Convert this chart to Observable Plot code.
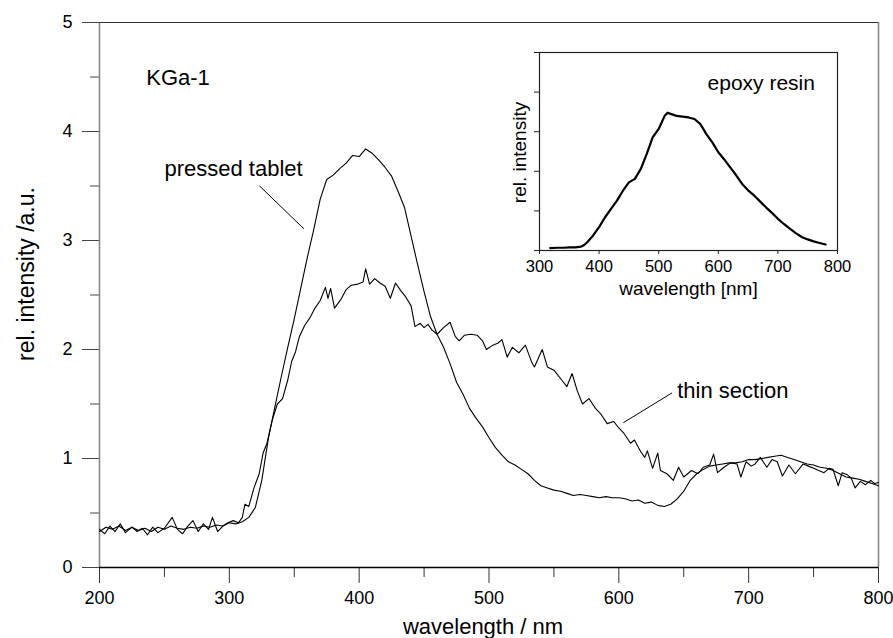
<!DOCTYPE html>
<html>
<head>
<meta charset="utf-8">
<script src="https://cdn.jsdelivr.net/npm/d3@7"></script>
<script src="https://cdn.jsdelivr.net/npm/@observablehq/plot@0.6"></script>
<style>
  html, body { margin: 0; padding: 0; background: white; }
  #wrap { position: relative; width: 893px; height: 638px; }
  #inset { position: absolute; left: 495px; top: 45px; }
</style>
</head>
<body>
<div id="wrap"><div id="main"></div><div id="inset"></div></div>
<script>
// ---- Main chart data ----
const ptWave = [200,205,210,215,220,225,230,235,240,245,250,255,260,265,270,275,280,285,290,295,
  300,305,310,315,320,325,330,335,340,345,350,355,360,365,370,375,380,385,390,395,
  400,405,410,415,420,425,430,435,440,445,450,455,460,465,470,475,480,485,490,495,
  500,505,510,515,520,525,530,535,540,545,550,555,560,565,570,575,580,585,590,595,
  600,605,610,615,620,625,630,635,640,645,650,655,660,665,670,675,680,685,690,695,
  700,705,710,715,720,725,730,735,740,745,750,755,760,765,770,775,780,785,790,795,800];
const ptInt = [0.33,0.37,0.35,0.38,0.34,0.37,0.34,0.36,0.33,0.37,0.35,0.38,0.36,0.35,0.37,0.36,0.38,0.37,0.39,0.38,
  0.41,0.40,0.42,0.46,0.55,0.80,1.18,1.47,1.75,2.02,2.28,2.56,2.84,3.10,3.38,3.56,3.60,3.66,3.71,3.78,
  3.77,3.84,3.80,3.74,3.67,3.59,3.45,3.30,3.04,2.78,2.53,2.30,2.14,2.02,1.87,1.70,1.59,1.46,1.37,1.29,
  1.19,1.10,1.03,0.97,0.94,0.90,0.86,0.80,0.75,0.73,0.71,0.70,0.68,0.66,0.67,0.66,0.65,0.64,0.65,0.64,
  0.64,0.63,0.61,0.62,0.59,0.60,0.57,0.56,0.58,0.63,0.70,0.80,0.86,0.90,0.93,0.94,0.95,0.96,0.96,0.97,
  0.99,0.99,1.00,1.01,1.02,1.03,1.01,0.99,0.97,0.95,0.94,0.92,0.91,0.89,0.86,0.83,0.82,0.81,0.79,0.77,0.75];

const tsWave = [200,204,208,212,216,220,225,229,233,237,241,245,250,256,260,264,268,272,276,280,
  284,287,291,295,299,303,307,310,312,315,319,323,326,329,333,337,341,345,348,351,
  354,358,362,366,370,374,376,378,381,386,390,394,399,403,405,408,412,416,420,424,
  428,432,436,440,443,447,450,453,456,460,465,470,474,477,481,486,491,495,498,503,
  507,510,514,518,523,528,533,535,541,545,550,556,560,564,568,572,577,582,586,591,
  596,600,604,609,612,617,620,622,626,630,632,637,642,646,650,656,661,665,670,673,
  676,681,686,691,694,698,702,705,709,714,718,722,726,731,736,742,746,750,754,758,
  762,765,769,772,776,779,782,786,790,794,797,800];
const tsInt = [0.35,0.31,0.38,0.33,0.40,0.32,0.37,0.33,0.36,0.30,0.37,0.32,0.36,0.46,0.35,0.31,0.38,0.43,0.33,0.40,
  0.35,0.46,0.33,0.38,0.41,0.43,0.41,0.46,0.58,0.56,0.73,0.86,1.05,1.14,1.35,1.50,1.55,1.72,1.89,1.98,
  2.12,2.22,2.29,2.38,2.45,2.57,2.47,2.56,2.38,2.46,2.55,2.59,2.60,2.62,2.74,2.60,2.65,2.61,2.58,2.47,
  2.61,2.54,2.48,2.40,2.21,2.24,2.20,2.23,2.18,2.14,2.20,2.25,2.12,2.08,2.13,2.14,2.13,2.08,2.00,2.04,
  2.06,2.09,1.93,2.02,1.97,2.04,1.88,1.84,2.00,1.84,1.81,1.72,1.66,1.78,1.62,1.50,1.55,1.46,1.41,1.32,
  1.34,1.28,1.23,1.14,1.17,1.06,1.01,1.07,0.91,1.05,0.89,0.86,0.80,0.92,0.83,0.89,0.86,0.92,0.94,1.04,
  0.87,0.92,0.96,0.95,0.83,0.97,0.93,0.95,1.01,0.92,0.99,0.97,0.84,0.94,0.86,0.95,0.93,0.91,0.89,0.87,
  0.91,0.90,0.75,0.87,0.85,0.82,0.73,0.79,0.76,0.80,0.77,0.78];

// ---- Inset data: epoxy resin ----
const epWave = [318,330,340,350,360,370,375,380,390,400,410,420,430,440,450,460,470,480,490,500,
  510,515,520,530,540,550,560,570,580,590,600,610,620,630,640,650,660,670,680,690,
  700,710,720,730,740,750,760,770,780];
const epInt = [0.06,0.07,0.07,0.08,0.08,0.10,0.14,0.21,0.38,0.59,0.84,1.05,1.26,1.51,1.72,1.81,2.06,2.44,2.86,3.07,
  3.40,3.48,3.45,3.40,3.38,3.36,3.32,3.19,2.94,2.73,2.48,2.30,2.10,1.90,1.68,1.52,1.39,1.24,1.09,0.95,
  0.80,0.67,0.55,0.44,0.34,0.28,0.23,0.19,0.15];

// ---- Ticks ----
const xMajor = [200,300,400,500,600,700,800];
const xMinor = [250,350,450,550,650,750];
const yMajor = [0,1,2,3,4,5];
const yMinor = [0.5,1.5,2.5,3.5,4.5];
const insetXTicks = [300,400,500,600,700,800];
const insetYTicks = [0,1,2,3,4,5];

// ---- Annotations ----
const labels = [
  {text: "KGa-1", x: 236, y: 4.49},
  {text: "pressed tablet", x: 250, y: 3.66},
  {text: "thin section", x: 645, y: 1.62}
];
const leaderPressed = [{x: 323.3, y: 3.50}, {x: 357.2, y: 3.11}];
const leaderThin = [{x: 640.7, y: 1.60}, {x: 603.7, y: 1.33}];
const insetLabel = [{text: "epoxy resin", x: 582, y: 4.22}];

const pressed = ptWave.map((w, i) => ({w, v: ptInt[i]}));
const thin = tsWave.map((w, i) => ({w, v: tsInt[i]}));
const epoxy = epWave.map((w, i) => ({w, v: epInt[i]}));

const font = "'Liberation Sans', Arial, Helvetica, sans-serif";
const fmtInt = d => String(d);

const main = Plot.plot({
  width: 893, height: 638,
  marginLeft: 99, marginRight: 15, marginTop: 22, marginBottom: 71,
  style: {fontFamily: font, color: "black", background: "white", overflow: "visible"},
  x: {domain: [200, 800], label: null},
  y: {domain: [0, 5], label: null},
  marks: [
    Plot.axisY({ticks: yMajor, tickSize: 17, tickPadding: 10, fontSize: 18, tickFormat: fmtInt, label: null, stroke: "#444"}),
    Plot.axisY({ticks: yMinor, tickSize: 9, tickFormat: () => "", label: null, stroke: "#444"}),
    Plot.axisX({ticks: xMajor, tickSize: 16, tickPadding: 8, fontSize: 18, tickFormat: fmtInt, label: null, stroke: "#333"}),
    Plot.axisX({ticks: xMinor, tickSize: 10, tickFormat: () => "", label: null, stroke: "#333"}),
    Plot.ruleX([200], {stroke: "#888", strokeWidth: 1.6}),
    Plot.ruleX([800], {stroke: "#888", strokeWidth: 1.6}),
    Plot.ruleY([5], {stroke: "#333", strokeWidth: 1}),
    Plot.ruleY([0], {stroke: "black", strokeWidth: 1.5}),
    Plot.line(pressed, {x: "w", y: "v", stroke: "black", strokeWidth: 1.1}),
    Plot.line(thin, {x: "w", y: "v", stroke: "black", strokeWidth: 1.1}),
    Plot.line(leaderPressed, {x: "x", y: "y", stroke: "black", strokeWidth: 1}),
    Plot.line(leaderThin, {x: "x", y: "y", stroke: "black", strokeWidth: 1}),
    Plot.text(labels, {x: "x", y: "y", text: "text", textAnchor: "start", fontSize: 22, fill: "black"}),
    Plot.text(["rel. intensity /a.u."], {frameAnchor: "left", textAnchor: "middle", lineAnchor: "middle", dx: -73, dy: -21, rotate: -90, fontSize: 23, fill: "black"}),
    Plot.text(["wavelength / nm"], {frameAnchor: "bottom", textAnchor: "middle", lineAnchor: "middle", dx: -6, dy: 59, fontSize: 22, fill: "black"})
  ]
});
document.getElementById("main").appendChild(main);

const inset = Plot.plot({
  width: 365, height: 265,
  marginLeft: 44, marginRight: 23, marginTop: 7, marginBottom: 60,
  style: {fontFamily: font, color: "black", background: "white", overflow: "visible"},
  x: {domain: [300, 800], label: null},
  y: {domain: [0, 5], label: null},
  marks: [
    Plot.axisY({ticks: insetYTicks, tickSize: 5, tickFormat: () => "", label: null, stroke: "#222"}),
    Plot.axisX({ticks: insetXTicks, tickSize: 4, tickPadding: 6, fontSize: 16.5, tickFormat: fmtInt, label: null, stroke: "#222"}),
    Plot.frame({stroke: "#222", strokeWidth: 1.2}),
    Plot.line(epoxy, {x: "w", y: "v", stroke: "black", strokeWidth: 2.2}),
    Plot.text(insetLabel, {x: "x", y: "y", text: "text", textAnchor: "start", fontSize: 21, fill: "black"}),
    Plot.text(["rel. intensity"], {frameAnchor: "left", textAnchor: "middle", lineAnchor: "middle", dx: -20, dy: 1, rotate: -90, fontSize: 19, fill: "black"}),
    Plot.text(["wavelength [nm]"], {frameAnchor: "bottom", textAnchor: "middle", lineAnchor: "middle", dx: 0, dy: 38, fontSize: 19, fill: "black"})
  ]
});
document.getElementById("inset").appendChild(inset);
</script>
</body>
</html>
